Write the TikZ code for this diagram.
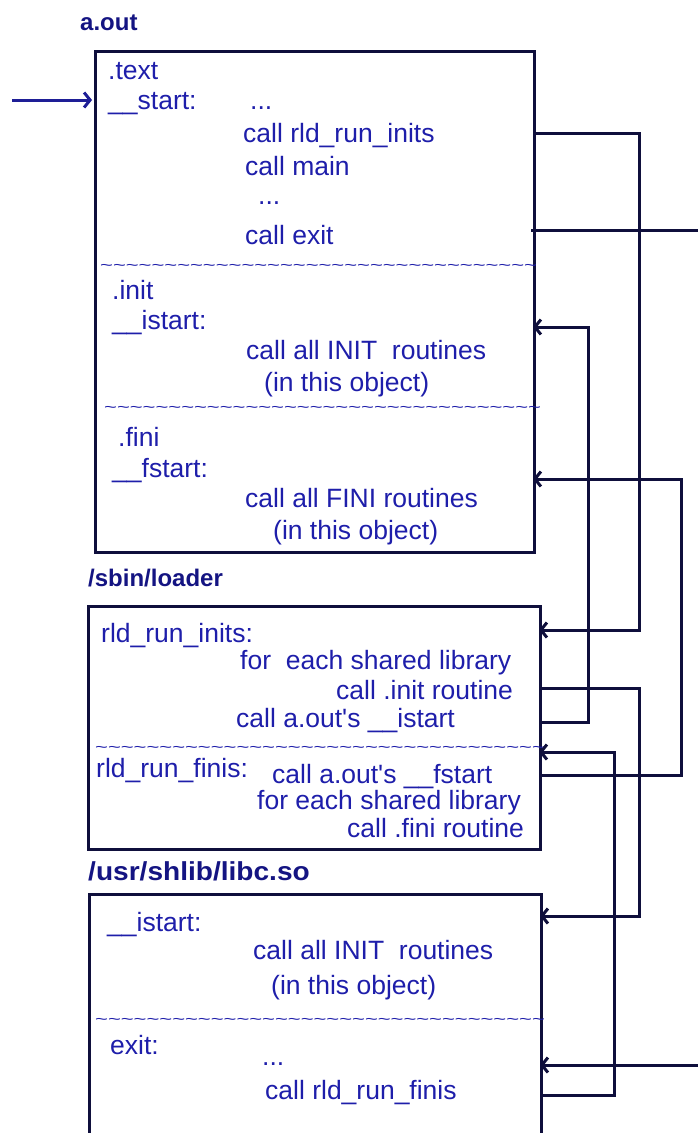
\documentclass[tikz,border=0pt]{standalone}
\usepackage{fontspec}
\setmainfont{Liberation Sans}
\usetikzlibrary{arrows.meta}
\definecolor{txt}{RGB}{30,30,170}
\definecolor{lbl}{RGB}{20,20,130}
\definecolor{ln}{RGB}{15,15,60}
\definecolor{entry}{RGB}{30,30,150}
\newcommand{\tldrow}[1]{\scalebox{1}[0.7]{\foreach \i in {1,...,#1}{\textasciitilde}}}
\begin{document}
\begin{tikzpicture}[x=1pt,y=-1pt,
  t/.style={anchor=mid west, inner sep=0pt, text=txt, font=\fontsize{26.5}{26.5}\selectfont},
  lab/.style={anchor=mid west, inner sep=0pt, text=lbl, font=\fontsize{24}{24}\selectfont\bfseries},
  sep/.style={anchor=west, inner sep=0pt, text=txt, font=\fontsize{22}{22}\selectfont},
  box/.style={draw=ln, line width=3pt, anchor=north west, inner sep=0pt},
  conn/.style={draw=ln, line width=3pt},
  arr/.style={conn, -{Straight Barb[length=6pt,width=15pt]}},
  entryarr/.style={draw=entry, line width=3pt, -{Straight Barb[length=6pt,width=15pt]}}]
\useasboundingbox (0,0) rectangle (698,1133);

% ---------- boxes ----------
\node[box, minimum width=439pt, minimum height=501pt] (aout) at (94,50) {};
\node[box, minimum width=452pt, minimum height=243pt] (loader) at (87,605) {};
\node[box, minimum width=452pt, minimum height=260pt] (libc) at (88,893) {};

% ---------- labels ----------
\node[lab] (laout) at (80,28) {a.out};
\node[lab] (lloader) at (88,584) {/sbin/loader};
\node[lab, font=\fontsize{26}{26}\selectfont\bfseries] (llibc) at (88,878) {\scalebox{1.08}[1]{/usr/shlib/libc.so}};

% ---------- a.out text ----------
\node[t] (a1) at (108,77) {.text};
\node[t] (a2) at (108,107) {\_\_start:};
\node[t] (a3) at (250,107) {...};
\node[t] (a4) at (243,140) {call rld\_run\_inits};
\node[t] (a5) at (245,173) {call main};
\node[t] (a6) at (258,202) {...};
\node[t] (a7) at (245,242) {call exit};
\node[sep] (s1) at (100,267) {\tldrow{34}};
\node[t] (a8) at (112,297) {.init};
\node[t] (a9) at (112,327) {\_\_istart:};
\node[t] (a10) at (246,357) {call all INIT\ \ routines};
\node[t] (a11) at (264,389) {(in this object)};
\node[sep] (s2) at (104,409) {\tldrow{34}};
\node[t] (a12) at (118,444) {.fini};
\node[t] (a13) at (112,475) {\_\_fstart:};
\node[t] (a14) at (245,505) {call all FINI routines};
\node[t] (a15) at (273,537) {(in this object)};

% ---------- loader text ----------
\node[t] (b1) at (101,640) {rld\_run\_inits:};
\node[t] (b2) at (240,667) {for\ \ each shared library};
\node[t] (b3) at (336,697) {call .init routine};
\node[t] (b4) at (236,725) {call a.out\textquotesingle s \_\_istart};
\node[sep] (s3) at (95,749) {\tldrow{35}};
\node[t] (b5) at (96,775) {rld\_run\_finis:};
\node[t] (b6) at (272,781) {call a.out\textquotesingle s \_\_fstart};
\node[t] (b7) at (257,807) {for each shared library};
\node[t] (b8) at (347,835) {call .fini routine};

% ---------- libc text ----------
\node[t] (c1) at (107,929) {\_\_istart:};
\node[t] (c2) at (253,957) {call all INIT\ \ routines};
\node[t] (c3) at (271,992) {(in this object)};
\node[sep] (s4) at (95,1021) {\tldrow{35}};
\node[t] (c4) at (110,1052) {exit:};
\node[t] (c5) at (262,1063) {...};
\node[t] (c6) at (265,1097) {call rld\_run\_finis};

% ---------- connector points ----------
\coordinate (entryStart) at (12,100);
\coordinate (entryEnd) at (92,100);
\coordinate (aInits) at (533,133);
\coordinate (aExit) at (531,230);
\coordinate (exitOut) at (698,230);
\coordinate (aIstart) at (533,327);
\coordinate (aFstart) at (533,479);
\coordinate (lInits) at (539,630);
\coordinate (lInitR) at (539,688);
\coordinate (lIstartR) at (539,722);
\coordinate (lFinis) at (539,752);
\coordinate (lFstartR) at (539,775);
\coordinate (cIstart) at (540,916);
\coordinate (cExit) at (540,1065);
\coordinate (exitIn) at (698,1065);
\coordinate (cFinisR) at (540,1095);

\coordinate (k1) at (639,133);
\coordinate (k2) at (639,630);
\coordinate (k3) at (588,722);
\coordinate (k4) at (588,327);
\coordinate (k5) at (681,775);
\coordinate (k6) at (681,479);
\coordinate (k7) at (639,688);
\coordinate (k8) at (639,916);
\coordinate (k9) at (614,1095);
\coordinate (k10) at (614,752);

% ---------- connectors ----------
\draw[entryarr] (entryStart) -- (entryEnd);
\draw[arr] (aInits) -- (k1) -- (k2) -- (lInits);
\draw[conn] (aExit) -- (exitOut);
\draw[arr] (exitIn) -- (cExit);
\draw[arr] (lIstartR) -- (k3) -- (k4) -- (aIstart);
\draw[arr] (lFstartR) -- (k5) -- (k6) -- (aFstart);
\draw[arr] (lInitR) -- (k7) -- (k8) -- (cIstart);
\draw[arr] (cFinisR) -- (k9) -- (k10) -- (lFinis);
\end{tikzpicture}
\end{document}
